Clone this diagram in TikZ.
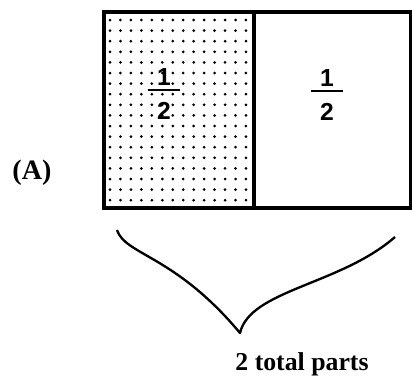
\documentclass[tikz,border=0pt]{standalone}
\usepackage{fontspec}
\setmainfont{Liberation Serif}
\newfontfamily\fracfont{Liberation Sans}
\newcommand{\halfnum}{\shortstack{1\\\rule{0.96cm}{1.8pt}\\[6pt]2}}

\begin{document}
\begin{tikzpicture}[x=0.03cm, y=-0.03cm, font=\fontsize{22}{26}\selectfont\bfseries,
  half/.style={draw, line width=3pt, minimum height=5.88cm, inner sep=0pt},
  frac/.style={font=\fontsize{21}{24}\fracfont\bfseries, inner sep=0pt}]
\useasboundingbox (0,0) rectangle (412,382);
% dotted half
\foreach \i in {0,...,13}
  \foreach \j in {0,...,17}
    \fill (110+\i*10.46, 20+\j*10.6) circle[radius=1.5];
\node[half, minimum width=4.5cm] (lhalf) at (179,110) {};
\node[half, minimum width=4.71cm] (rhalf) at (332.5,110) {};
\node[frac] (lfrac) at (164,94) {\halfnum};
\node[frac] (rfrac) at (327,95) {\halfnum};
\node[font=\fontsize{24}{28}\selectfont\bfseries] (lab) at (32,173) {(A)};
% brace
\coordinate (bl) at (117,230);
\coordinate (tip) at (240,333);
\coordinate (br) at (395,237);
\draw[line width=2pt, line join=round] (bl) .. controls (125,255) and (175,255) .. (tip)
  .. controls (250,290) and (340,285) .. (br);
\node (total) at (302,364) {2 total parts};
\end{tikzpicture}
\end{document}
